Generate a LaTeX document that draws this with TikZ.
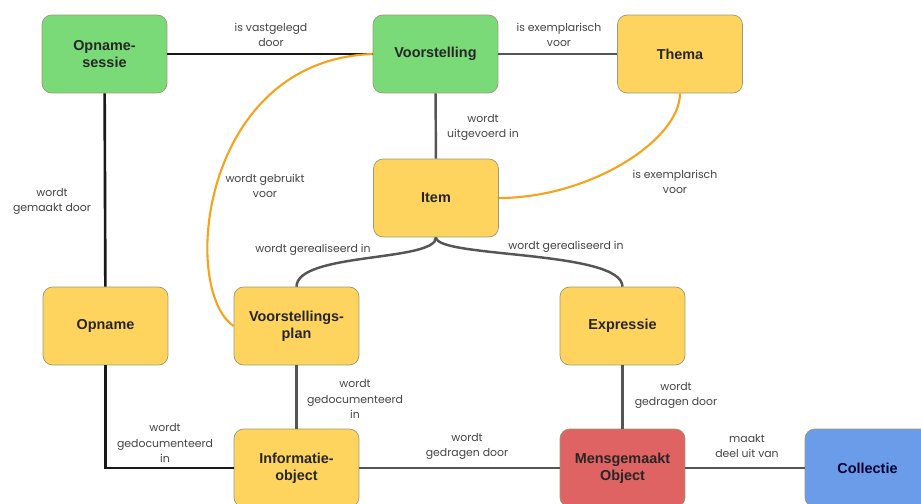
\documentclass[tikz,border=0pt]{standalone}
\usepackage{fontspec}
\setmainfont{Liberation Sans}
\newfontfamily\labelfont{Poppins}
\usetikzlibrary{calc}

\definecolor{groen}{HTML}{7BDA78}
\definecolor{geel}{HTML}{FFD45E}
\definecolor{rood}{HTML}{E06363}
\definecolor{blauw}{HTML}{6A9CEA}
\definecolor{oranje}{HTML}{F7A21B}
\definecolor{rand}{HTML}{9A9A78}
\definecolor{lijn}{HTML}{555555}
\definecolor{tekst}{HTML}{444444}

\tikzset{
  entiteit/.style={rectangle,rounded corners=5.5pt,draw=rand,minimum width=2.5cm,minimum height=1.56cm,
    align=center,font=\fontsize{8.2}{9.6}\selectfont\bfseries,text=black!85},
  rel/.style={draw=lijn,line width=1.4pt},
  relzwart/.style={draw=black!90,line width=1.5pt},
  reloranje/.style={draw=oranje,line width=1.2pt},
  etiket/.style={align=center,font=\labelfont\fontsize{6.2}{8.6}\selectfont,text=tekst,inner sep=1pt}
}

\begin{document}
\begin{tikzpicture}[x=0.02cm,y=-0.02cm]
\useasboundingbox (0,0) rectangle (921,504);
\begin{scope}[every node/.style={entiteit}]
    \node[fill=groen] (sessie) at (104.5,54) {Opname-\\sessie};
    \node[fill=groen] (voorst) at (435.5,54) {Voorstelling};
    \node[fill=geel] (thema) at (680,54) {Thema};
    \node[fill=geel] (item) at (436,198) {Item};
    \node[fill=geel] (opname) at (105.5,326) {Opname};
    \node[fill=geel] (vplan) at (296.5,326) {Voorstellings-\\plan};
    \node[fill=geel] (expr) at (622.5,326) {Expressie};
    \node[fill=geel] (info) at (296.5,468) {Informatie-\\object};
    \node[fill=rood] (mens) at (622.5,468) {Mensgemaakt\\Object};
    \node[fill=blauw,text=blue!20!black] (coll) at (867.5,468) {Collectie};
\end{scope}
\begin{scope}
    % relaties
    \draw[relzwart] (sessie) -- (voorst);
    \draw[relzwart] (sessie) -- (opname);
    \draw[relzwart] (opname.south) |- (info.west);
    \draw[rel] (voorst) -- (thema);
    \draw[rel] (voorst) -- (item);
    \draw[rel] (item.south) .. controls (436,262) and (297,252) .. (vplan.north);
    \draw[rel] (item.south) .. controls (436,258) and (622,250) .. (expr.north);
    \draw[rel] (vplan) -- (info);
    \draw[rel] (info) -- (mens);
    \draw[rel] (expr) -- (mens);
    \draw[rel] (mens) -- (coll);
    \draw[reloranje] (voorst.west) .. controls (200,60) and (180,290) .. (vplan.west);
    \draw[reloranje] (thema.south) .. controls (680,140) and (590,198) .. (item.east);
\end{scope}
\begin{scope}[every node/.style={etiket}]
    \node (e1) at (271,35) {is vastgelegd\\door};
    \node (e2) at (559,35) {is exemplarisch\\voor};
    \node (e3) at (483,127) {wordt\\uitgevoerd in};
    \node (e4) at (265,186) {wordt gebruikt\\voor};
    \node (e5) at (52,201) {wordt\\gemaakt door};
    \node (e6) at (675,182) {is exemplarisch\\voor};
    \node (e7) at (313,250) {wordt gerealiseerd in};
    \node (e8) at (566,247) {wordt gerealiseerd in};
    \node (e9) at (355,399) {wordt\\gedocumenteerd\\in};
    \node (e10) at (165,443) {wordt\\gedocumenteerd\\in};
    \node (e11) at (467,446) {wordt\\gedragen door};
    \node (e12) at (676,395) {wordt\\gedragen door};
    \node (e13) at (747,446) {maakt\\deel uit van};
\end{scope}
\end{tikzpicture}
\end{document}
